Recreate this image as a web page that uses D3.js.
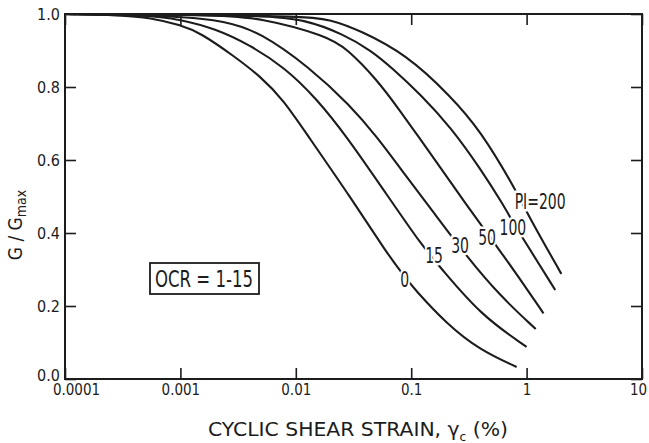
<!DOCTYPE html>
<html>
<head>
<meta charset="utf-8">
<script src="https://cdnjs.cloudflare.com/ajax/libs/d3/7.8.5/d3.min.js"></script>
<style>
  body { margin: 0; background: #fff; }
  text { font-family: "DejaVu Sans Condensed", "DejaVu Sans", sans-serif; fill: #1c1c1c; }
</style>
</head>
<body>
<svg id="chart" width="649" height="443"></svg>
<script>
// axis ticks
const strainTicks = [0.0001, 0.001, 0.01, 0.1, 1, 10];
const strainTickLabels = ["0.0001", "0.001", "0.01", "0.1", "1", "10"];
const ratioTicks = [0, 0.2, 0.4, 0.6, 0.8, 1.0];
const ratioTickLabels = ["0.0", "0.2", "0.4", "0.6", "0.8", "1.0"];

// curves: cyclic shear strain (%) and G/Gmax
const pi0Strain = [0.0001, 0.0003, 0.00055, 0.001, 0.0015, 0.0029, 0.0049, 0.0078, 0.0128, 0.0295, 0.063, 0.088, 0.104, 0.204, 0.395, 0.82];
const pi0Ratio  = [1.0, 0.997, 0.99, 0.97, 0.948, 0.885, 0.83, 0.765, 0.665, 0.5, 0.34, 0.28, 0.25, 0.15, 0.079, 0.033];

const pi15Strain = [0.0001, 0.0005, 0.001, 0.002, 0.004, 0.0079, 0.015, 0.0283, 0.06, 0.126, 0.178, 0.4, 1.0];
const pi15Ratio  = [1.0, 0.998, 0.985, 0.96, 0.915, 0.855, 0.77, 0.66, 0.51, 0.362, 0.307, 0.175, 0.088];

const pi30Strain = [0.0001, 0.001, 0.0025, 0.0049, 0.013, 0.0295, 0.0515, 0.08, 0.151, 0.305, 0.6, 1.2];
const pi30Ratio  = [1.0, 0.995, 0.98, 0.95, 0.855, 0.75, 0.66, 0.578, 0.463, 0.334, 0.225, 0.137];

const pi50Strain = [0.0001, 0.002, 0.0049, 0.0186, 0.0278, 0.0506, 0.08, 0.112, 0.178, 0.305, 0.454, 0.57, 0.85, 1.4];
const pi50Ratio  = [1.0, 0.998, 0.99, 0.94, 0.905, 0.82, 0.735, 0.67, 0.58, 0.475, 0.4, 0.357, 0.28, 0.18];

const pi100Strain = [0.0001, 0.005, 0.012, 0.0257, 0.045, 0.0695, 0.12, 0.22, 0.4, 0.62, 0.76, 0.93, 1.77];
const pi100Ratio  = [1.0, 0.998, 0.985, 0.945, 0.9, 0.85, 0.78, 0.69, 0.575, 0.48, 0.43, 0.385, 0.244];

const pi200Strain = [0.0001, 0.0116, 0.02, 0.036, 0.09, 0.22, 0.4, 0.79, 1.03, 2.0];
const pi200Ratio  = [1.0, 0.995, 0.985, 0.955, 0.89, 0.775, 0.68, 0.523, 0.449, 0.288];

// curve labels and where they sit
const piLabels = ["0", "15", "30", "50", "100", "PI=200"];
const labelStrain = [0.088, 0.158, 0.265, 0.454, 0.76, 1.31];
const labelRatio  = [0.272, 0.337, 0.364, 0.386, 0.414, 0.485];

const curves = [
  [pi0Strain, pi0Ratio],
  [pi15Strain, pi15Ratio],
  [pi30Strain, pi30Ratio],
  [pi50Strain, pi50Ratio],
  [pi100Strain, pi100Ratio],
  [pi200Strain, pi200Ratio]
];

const plotLeft = 65, plotTop = 14, plotRight = 642, plotBottom = 379;
const ink = "#1c1c1c";

const svg = d3.select("#chart");

const x = d3.scaleLog().domain([0.0001, 10]).range([plotLeft, plotRight]);
const y = d3.scaleLinear().domain([0, 1]).range([plotBottom, plotTop]);

// squeeze a text to a narrower width, the original lettering is narrow
function condense(sel, k) {
  sel.each(function () {
    const w = this.getComputedTextLength();
    d3.select(this).attr("textLength", w * k).attr("lengthAdjust", "spacingAndGlyphs");
  });
}

// bottom axis
const xAxis = svg.append("g")
  .attr("transform", `translate(0,${plotBottom})`)
  .call(d3.axisBottom(x).tickValues(strainTicks).tickSizeInner(-11).tickSizeOuter(0).tickPadding(5)
    .tickFormat((d, i) => strainTickLabels[i]));
xAxis.select(".domain").remove();
xAxis.selectAll("line").attr("stroke", ink).attr("stroke-width", 1.6);
xAxis.selectAll("text").style("font-size", "15px").attr("fill", ink)
  .attr("dx", (d, i) => i === 0 ? 11 : (i === strainTicks.length - 1 ? -4 : 0));

// top axis, ticks only
const xTop = svg.append("g")
  .attr("transform", `translate(0,${plotTop})`)
  .call(d3.axisTop(x).tickValues(strainTicks).tickSizeInner(-11).tickSizeOuter(0).tickFormat(""));
xTop.select(".domain").remove();
xTop.selectAll("line").attr("stroke", ink).attr("stroke-width", 1.6);

// left axis
const yAxis = svg.append("g")
  .attr("transform", `translate(${plotLeft},0)`)
  .call(d3.axisLeft(y).tickValues(ratioTicks).tickSizeInner(-11).tickSizeOuter(0).tickPadding(5)
    .tickFormat((d, i) => ratioTickLabels[i]));
yAxis.select(".domain").remove();
yAxis.selectAll("line").attr("stroke", ink).attr("stroke-width", 1.6);
yAxis.selectAll("text").style("font-size", "16px").attr("fill", ink)
  .attr("dy", (d, i) => i === 0 ? "0.1em" : "0.32em");

// right axis, ticks only
const yRight = svg.append("g")
  .attr("transform", `translate(${plotRight},0)`)
  .call(d3.axisRight(y).tickValues(ratioTicks).tickSizeInner(-11).tickSizeOuter(0).tickFormat(""));
yRight.select(".domain").remove();
yRight.selectAll("line").attr("stroke", ink).attr("stroke-width", 1.6);

// frame
svg.append("rect")
  .attr("x", plotLeft).attr("y", plotTop)
  .attr("width", plotRight - plotLeft).attr("height", plotBottom - plotTop)
  .attr("fill", "none").attr("stroke", ink).attr("stroke-width", 2);

// curves
const line = d3.line()
  .x(d => x(d[0]))
  .y(d => y(d[1]))
  .curve(d3.curveBasis);

svg.append("g").selectAll("path")
  .data(curves)
  .join("path")
  .attr("d", c => line(c[0].map((s, i) => [s, c[1][i]])))
  .attr("fill", "none")
  .attr("stroke", ink)
  .attr("stroke-width", 2.1);

// curve labels, with a white halo that breaks the line
svg.append("g").selectAll("text")
  .data(piLabels)
  .join("text")
  .attr("x", (d, i) => x(labelStrain[i]))
  .attr("y", (d, i) => y(labelRatio[i]))
  .attr("text-anchor", "middle")
  .attr("dominant-baseline", "central")
  .style("font-size", "21px")
  .attr("stroke", "#fff")
  .attr("stroke-width", 5)
  .attr("paint-order", "stroke")
  .text(d => d)
  .call(condense, 0.74);

// OCR box
svg.append("rect")
  .attr("x", 150).attr("y", 263)
  .attr("width", 109).attr("height", 31)
  .attr("fill", "#fff").attr("stroke", ink).attr("stroke-width", 1.8);
svg.append("text")
  .attr("x", 204).attr("y", 279)
  .attr("text-anchor", "middle")
  .attr("dominant-baseline", "central")
  .style("font-size", "23px")
  .attr("textLength", 98).attr("lengthAdjust", "spacingAndGlyphs")
  .text("OCR = 1-15");

// x title
const xTitle = svg.append("text")
  .attr("x", 358).attr("y", 436)
  .attr("text-anchor", "middle")
  .style("font-size", "20px")
  .attr("textLength", 300).attr("lengthAdjust", "spacingAndGlyphs");
xTitle.append("tspan").text("CYCLIC SHEAR STRAIN, γ");
xTitle.append("tspan").attr("dy", 5).style("font-size", "12px").text("c");
xTitle.append("tspan").attr("dy", -5).text(" (%)");

// y title
const yTitle = svg.append("text")
  .attr("transform", "translate(22,225) rotate(-90)")
  .attr("text-anchor", "middle")
  .style("font-size", "19px");
yTitle.append("tspan").text("G / G");
yTitle.append("tspan").attr("dy", 4).style("font-size", "14px").text("max");
</script>
</body>
</html>
